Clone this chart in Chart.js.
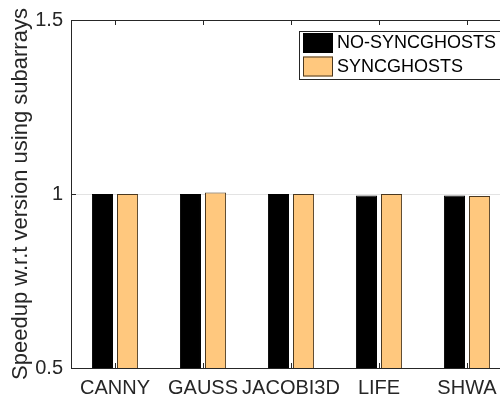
<!DOCTYPE html>
<html>
<head>
<meta charset="utf-8">
<script src="https://cdn.jsdelivr.net/npm/chart.js@4/dist/chart.umd.min.js"></script>
<style>
  html, body { margin: 0; padding: 0; overflow: hidden; background: #fff; }
  #wrap { width: 512px; height: 400px; }
</style>
</head>
<body>
<div id="wrap"><canvas id="myChart"></canvas></div>
<script>
    var categories = ['CANNY', 'GAUSS', 'JACOBI3D', 'LIFE', 'SHWA'];
    var noSync = [1.000, 1.000, 1.000, 0.996, 0.996];
    var sync = [1.000, 1.004, 1.000, 1.000, 0.994];
    var yTicks = [0.5, 1, 1.5];

    var textColor = '#262626';
    var fontFamily = "'Liberation Sans', Arial, Helvetica, sans-serif";

    // MATLAB-ish box: top line plus inward tick marks
    var boxTicks = {
        id: 'boxTicks',
        afterDraw: function (chart) {
            var c = chart.ctx, a = chart.chartArea;
            var xs = chart.scales.x, ys = chart.scales.y;
            c.save();
            c.strokeStyle = textColor;
            c.lineWidth = 1;
            c.beginPath();
            c.moveTo(a.left, a.top + 0.5);
            c.lineTo(a.right, a.top + 0.5);
            for (var i = 0; i < categories.length; i++) {
                var x = Math.round(xs.getPixelForValue(i)) + 0.5;
                c.moveTo(x, a.bottom);
                c.lineTo(x, a.bottom - 5);
                c.moveTo(x, a.top);
                c.lineTo(x, a.top + 5);
            }
            yTicks.forEach(function (v) {
                var y = Math.round(ys.getPixelForValue(v)) + 0.5;
                c.moveTo(a.left, y);
                c.lineTo(a.left + 5, y);
            });
            c.stroke();
            c.restore();
        }
    };

    // legend box inside the plot, top right
    var boxLegend = {
        id: 'boxLegend',
        afterDraw: function (chart) {
            var c = chart.ctx, a = chart.chartArea;
            var left = a.right - 212, top = a.top + 11;
            c.save();
            c.fillStyle = '#fff';
            c.fillRect(left, top, 210, 48);
            c.strokeStyle = textColor;
            c.lineWidth = 1;
            c.strokeRect(left + 0.5, top + 0.5, 210, 48);
            c.font = '18px ' + fontFamily;
            c.textBaseline = 'middle';
            chart.data.datasets.forEach(function (ds, i) {
                var y = top + 2 + i * 23.5;
                c.fillStyle = ds.backgroundColor;
                c.fillRect(left + 4, y, 30, 20);
                c.strokeStyle = ds.borderColor;
                c.strokeRect(left + 4.5, y + 0.5, 29, 19);
                c.fillStyle = '#000';
                c.fillText(ds.label, left + 38, y + 10.5);
            });
            c.restore();
        }
    };

    var ctx = document.getElementById('myChart').getContext('2d');
    var myChart = new Chart(ctx, {
        type: 'bar',
        data: {
            labels: categories,
            datasets: [{
                label: 'NO-SYNCGHOSTS',
                data: noSync,
                backgroundColor: '#000000',
                borderColor: '#000000',
                borderWidth: 1
            }, {
                label: 'SYNCGHOSTS',
                data: sync,
                backgroundColor: '#FFC87E',
                borderColor: '#4a3820',
                borderWidth: 1
            }]
        },
        options: {
            responsive: true,
            maintainAspectRatio: false,
            animation: false,
            categoryPercentage: 0.57,
            barPercentage: 0.84,
            layout: { padding: { top: 20, right: 1, left: 0, bottom: 0 } },
            plugins: {
                legend: { display: false },
                tooltip: { enabled: false }
            },
            scales: {
                x: {
                    afterFit: function (scale) { scale.height = 32; },
                    grid: { display: false, drawTicks: false },
                    border: { display: true, color: textColor, width: 1 },
                    ticks: {
                        color: textColor,
                        padding: 8,
                        maxRotation: 0,
                        autoSkip: false,
                        font: { family: fontFamily, size: 20 }
                    }
                },
                y: {
                    min: 0.5,
                    max: 1.5,
                    afterFit: function (scale) { scale.width = 71; },
                    afterBuildTicks: function (scale) {
                        scale.ticks = yTicks.map(function (v) { return { value: v }; });
                    },
                    grid: {
                        drawTicks: false,
                        color: function (c) { return c.tick && c.tick.value === 1 ? '#e3e3e3' : 'rgba(0,0,0,0)'; }
                    },
                    border: { display: true, color: textColor, width: 1 },
                    ticks: {
                        color: textColor,
                        padding: 8,
                        font: { family: fontFamily, size: 20 },
                        callback: function (v) { return String(v); }
                    },
                    title: {
                        display: true,
                        text: 'Speedup w.r.t version using subarrays',
                        color: textColor,
                        padding: { top: 8, bottom: 0 },
                        font: { family: fontFamily, size: 22 }
                    }
                }
            }
        },
        plugins: [boxTicks, boxLegend]
    });
</script>
</body>
</html>
